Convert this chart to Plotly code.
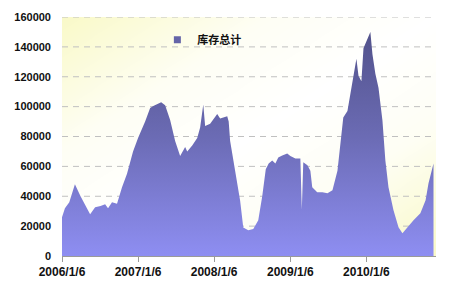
import numpy as np
import pandas as pd
import plotly.graph_objects as go

dates = ["2006-01-06","2006-01-20","2006-02-10","2006-03-09","2006-04-05","2006-05-21","2006-06-14",
         "2006-07-10","2006-08-01","2006-08-15","2006-09-03","2006-09-27","2006-10-21","2006-11-14",
         "2006-12-13","2007-01-06","2007-02-09","2007-03-05","2007-03-20","2007-04-27","2007-05-16",
         "2007-06-09","2007-07-03","2007-07-27","2007-08-20","2007-08-30","2007-09-23","2007-10-17",
         "2007-10-31","2007-11-15","2007-11-24","2007-12-18","2008-01-21","2008-02-04","2008-03-09",
         "2008-03-16","2008-03-23","2008-04-16","2008-05-10","2008-05-25","2008-06-18","2008-07-12",
         "2008-08-05","2008-08-24","2008-09-10","2008-09-24","2008-10-11","2008-10-26","2008-11-09",
         "2008-11-28","2008-12-22","2009-01-06","2009-01-30","2009-02-23","2009-03-02","2009-03-09",
         "2009-03-29","2009-04-12","2009-04-21","2009-05-15","2009-06-09","2009-07-03","2009-07-27",
         "2009-08-20","2009-09-03","2009-09-17","2009-10-07","2009-10-21","2009-11-05","2009-11-19",
         "2009-11-29","2009-12-13","2009-12-23","2010-01-11","2010-01-25","2010-02-04","2010-02-18",
         "2010-03-05","2010-03-24","2010-04-07","2010-04-22","2010-05-16","2010-06-09","2010-06-28",
         "2010-07-22","2010-08-20","2010-09-22","2010-10-17","2010-10-31","2010-11-19","2010-11-24"]
inventory = [26000,32000,36000,48000,40000,28000,32700,
             33500,34700,32000,36000,35000,46000,55000,
             70000,79000,90000,99000,100500,103000,101000,
             91000,77000,67000,73000,70000,74000,79000,
             86000,101500,87000,88500,95000,92000,93500,
             90000,77000,57000,37000,19000,17300,18000,
             24000,40000,58000,62000,64000,62000,66000,
             67300,68700,67000,65300,65300,31000,62700,
             60700,57000,46000,42700,42700,42000,44000,
             57000,77000,92700,97000,108700,119000,132000,
             120700,117000,139000,146000,150000,135000,122000,
             112700,90700,64000,46000,30700,19300,15300,
             19300,24000,28700,37300,48700,59300,62000]

y_ticks = [0, 20000, 40000, 60000, 80000, 100000, 120000, 140000, 160000]
x_tick_vals = ["2006-01-06", "2007-01-06", "2008-01-06", "2009-01-06", "2010-01-06"]
x_tick_text = ["2006/1/6", "2007/1/6", "2008/1/6", "2009/1/6", "2010/1/6"]
series_name = "库存总计"

x_start, x_end = "2006-01-06", "2010-12-06"
y_max = 160000

fig = go.Figure()

# background gradient (pale yellow corners, white diagonal)
n = 40
bx = pd.date_range(x_start, x_end, periods=n)
by = np.linspace(0, y_max, n)
U, V = np.meshgrid(np.linspace(0, 1, n), np.linspace(0, 1, n))
Z = np.abs(U + (1 - V) - 1)
fig.add_trace(go.Heatmap(x=bx, y=by, z=Z, zsmooth="best", showscale=False,
                         colorscale=[[0, "#ffffff"], [0.45, "#fefef4"], [1, "#f9f9c8"]],
                         zmin=0, zmax=1, hoverinfo="skip", showlegend=False))

# dashed gridlines
gx, gy = [], []
for t in y_ticks[1:]:
    gx += [x_start, "2010-11-28", None]
    gy += [t, t, None]
fig.add_trace(go.Scatter(x=gx, y=gy, mode="lines", showlegend=False, hoverinfo="skip",
                         line=dict(color="#c0c0c0", width=1, dash="6px,5px")))

fig.add_trace(go.Scatter(
    x=dates, y=inventory, mode="lines", name=series_name, showlegend=False,
    line=dict(width=0, color="#6a6aae"),
    fill="tozeroy",
    fillgradient=dict(type="vertical", start=y_max, stop=0,
                      colorscale=[[0, "#4f4f86"], [0.5, "#6b6bb4"], [1, "#8e8ef2"]]),
))
# legend entry (square swatch)
fig.add_trace(go.Scatter(
    x=[None], y=[None], mode="markers", name=series_name, showlegend=True,
    marker=dict(symbol="square", size=7, color="#6464a8"),
))

fig.update_layout(
    width=450, height=300,
    margin=dict(l=62, r=14, t=17, b=44),
    paper_bgcolor="white", plot_bgcolor="white",
    font=dict(family="Liberation Sans, Arial", size=11, color="#222"),
    showlegend=True,
    legend=dict(x=0.255, y=0.905, xanchor="left", yanchor="middle",
                bgcolor="rgba(0,0,0,0)",
                font=dict(family="Noto Sans CJK SC", size=11, color="#111", weight="bold"),
                itemwidth=30, tracegroupgap=0),
    xaxis=dict(type="date", range=[x_start, x_end], tickvals=x_tick_vals, ticktext=x_tick_text,
               showgrid=False, zeroline=False, showline=True, linecolor="#9a9a9a",
               ticks="outside", ticklen=5, tickcolor="#9a9a9a",
               tickfont=dict(family="Liberation Sans", size=12, color="#111", weight="bold")),
    yaxis=dict(range=[0, y_max], tickvals=y_ticks, ticktext=[str(v) for v in y_ticks],
               showgrid=False, zeroline=False, showline=False, ticks="", ticklabelstandoff=10,
               tickfont=dict(family="Liberation Sans", size=11, color="#111", weight="bold")),
)

fig.write_html("out.html")
